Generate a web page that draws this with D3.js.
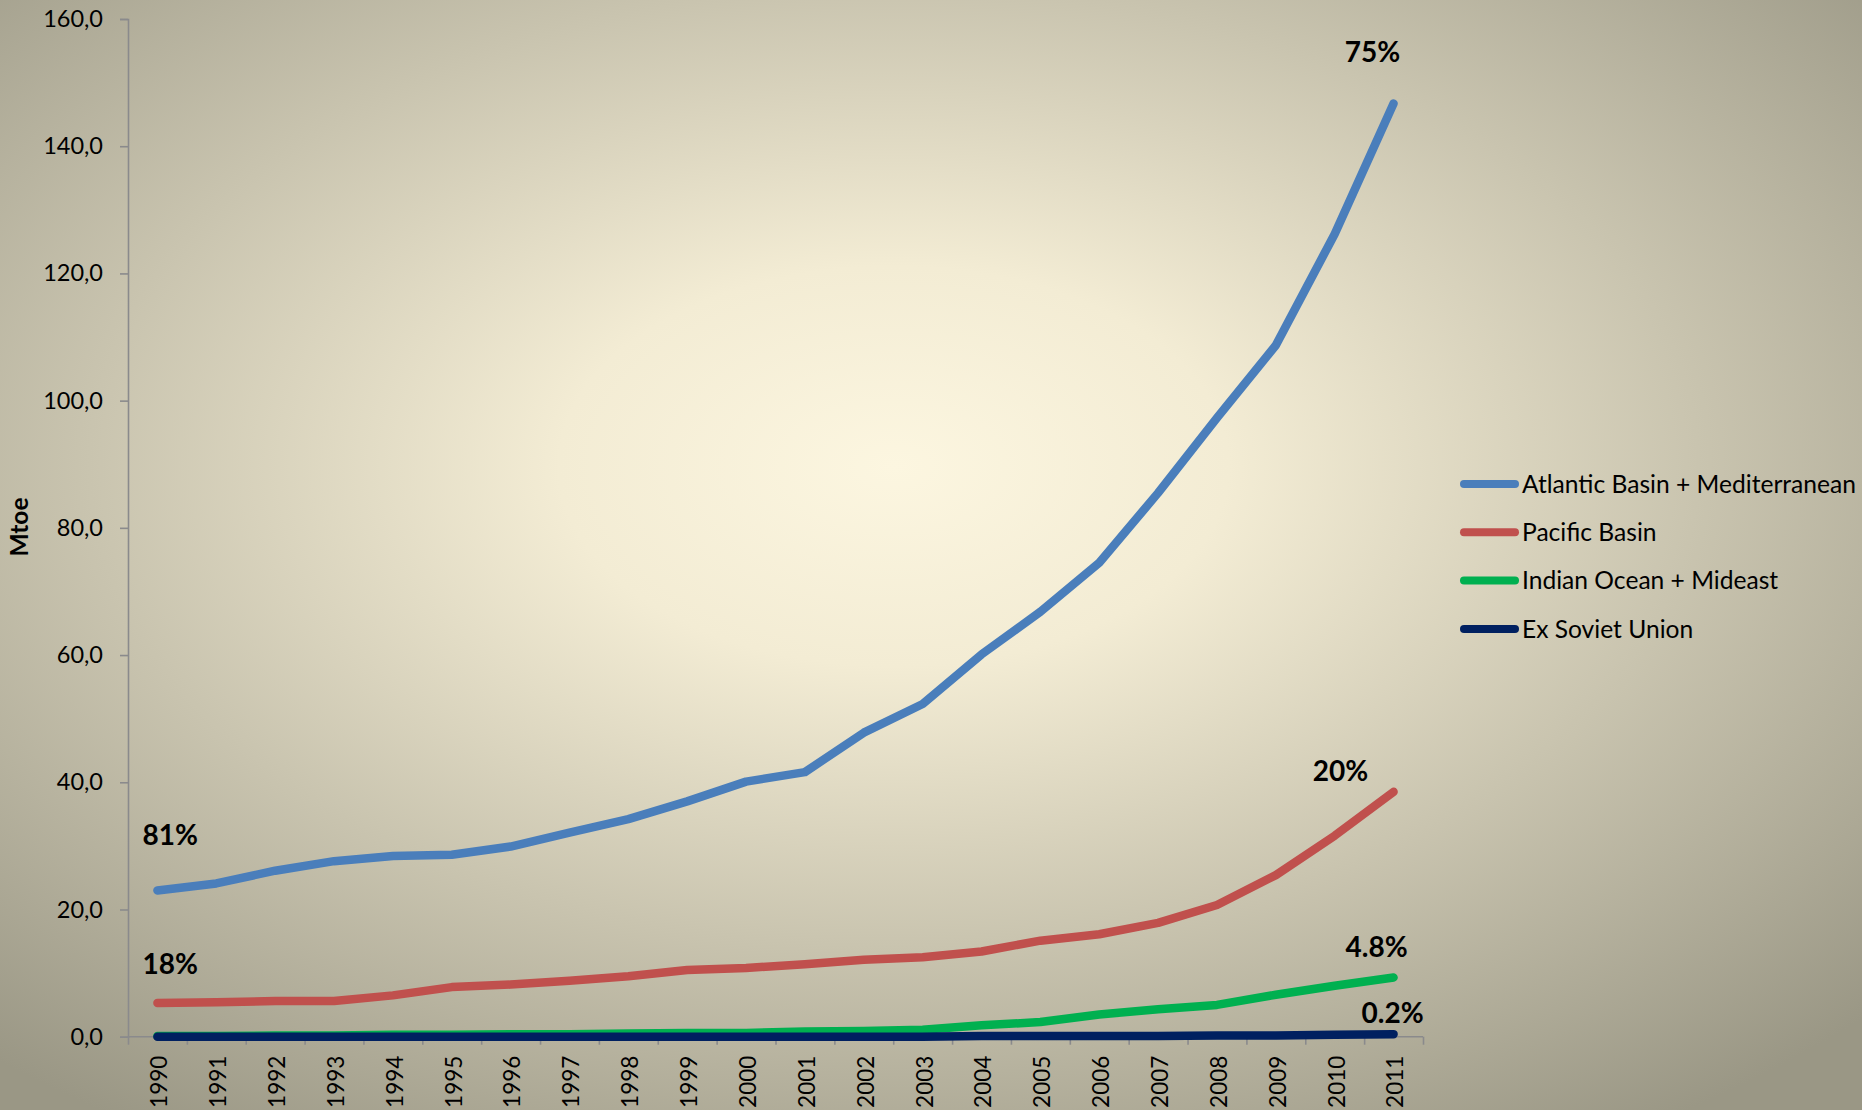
<!DOCTYPE html>
<html>
<head>
<meta charset="utf-8">
<script src="https://cdn.jsdelivr.net/npm/d3@7"></script>
<style>
  html, body { margin: 0; padding: 0; background: #a9a694; }
  svg { display: block; }
  text { font-family: Lato, "Open Sans", sans-serif; fill: #000; }
</style>
</head>
<body>
<svg id="chart" width="1862" height="1110"></svg>
<script>
const years = ["1990","1991","1992","1993","1994","1995","1996","1997","1998","1999","2000",
               "2001","2002","2003","2004","2005","2006","2007","2008","2009","2010","2011"];
const atlantic = [23.0, 24.1, 26.1, 27.6, 28.4, 28.6, 29.9, 32.1, 34.2, 37.0, 40.1,
                  41.6, 47.8, 52.3, 60.1, 66.8, 74.5, 85.5, 97.3, 108.7, 126.2, 146.7];
const pacific = [5.3, 5.4, 5.6, 5.6, 6.5, 7.8, 8.2, 8.8, 9.5, 10.5, 10.8,
                 11.4, 12.1, 12.5, 13.4, 15.1, 16.1, 17.9, 20.7, 25.4, 31.6, 38.5];
const indian = [0.1, 0.1, 0.2, 0.2, 0.3, 0.3, 0.4, 0.4, 0.5, 0.6, 0.6,
                0.8, 0.9, 1.1, 1.8, 2.3, 3.5, 4.3, 5.0, 6.6, 8.0, 9.3];
const exSoviet = [0.0, 0.0, 0.0, 0.0, 0.0, 0.0, 0.0, 0.0, 0.0, 0.0, 0.0,
                  0.0, 0.0, 0.0, 0.1, 0.1, 0.1, 0.1, 0.2, 0.2, 0.3, 0.4];
const seriesNames = ["Atlantic Basin + Mediterranean", "Pacific Basin", "Indian Ocean + Mideast", "Ex Soviet Union"];
const seriesColors = ["#4a7ebb", "#c0504d", "#00b050", "#002060"];
const yTicks = [0, 20, 40, 60, 80, 100, 120, 140, 160];
const startShares = ["81%", "18%"];
const endShares = ["75%", "20%", "4.8%", "0.2%"];
const yTitle = "Mtoe";

const seriesValues = [atlantic, pacific, indian, exSoviet];

const svg = d3.select("#chart");
const W = 1862, H = 1110;

// background gradient
const defs = svg.append("defs");
const grad = defs.append("radialGradient")
  .attr("id", "bg").attr("cx", 0.48).attr("cy", 0.42).attr("r", 0.72)
  .attr("fx", 0.48).attr("fy", 0.42);
[[0, "#fcf6e0"], [0.25, "#f3ecd4"], [0.6, "#c9c4af"], [1, "#9a9785"]].forEach(s =>
  grad.append("stop").attr("offset", s[0]).attr("stop-color", s[1]));
svg.append("rect").attr("width", W).attr("height", H).attr("fill", "url(#bg)");

const plotLeft = 128, plotRight = 1423, plotTop = 19, plotBottom = 1036.7;

const x = d3.scaleBand().domain(years).range([plotLeft, plotRight]).paddingInner(0).paddingOuter(0);
const xc = d => x(d) + x.bandwidth() / 2;
const xTickScale = d3.scaleLinear().domain([0, years.length]).range([plotLeft, plotRight]);
const y = d3.scaleLinear().domain([0, 160]).range([plotBottom, plotTop]);

const axisColor = "#8a8a8c";

// Y axis
const yAxis = svg.append("g").attr("transform", `translate(${plotLeft},0)`)
  .call(d3.axisLeft(y).tickValues(yTicks).tickSize(8).tickPadding(17)
    .tickFormat(v => d3.format(".1f")(v).replace(".", ",")));
yAxis.select(".domain").attr("stroke", axisColor).attr("stroke-width", 1.6);
yAxis.selectAll(".tick line").attr("stroke", axisColor).attr("stroke-width", 1.6);
yAxis.selectAll(".tick text").style("font-size", "23.5px").style("font-family", "Lato, sans-serif").attr("fill", "#000");

// X axis ticks at category boundaries
const xAxisTicks = svg.append("g").attr("transform", `translate(0,${plotBottom})`)
  .call(d3.axisBottom(xTickScale).tickValues(d3.range(years.length + 1)).tickSize(8).tickFormat(""));
xAxisTicks.select(".domain").attr("stroke", axisColor).attr("stroke-width", 1.6)
  .attr("d", `M${plotLeft},0H${plotRight}`);
xAxisTicks.selectAll(".tick line").attr("stroke", axisColor).attr("stroke-width", 1.6);

// X labels
const xAxisLabels = svg.append("g").attr("transform", `translate(0,${plotBottom})`)
  .call(d3.axisBottom(x).tickSize(0).tickPadding(0));
xAxisLabels.select(".domain").remove();
xAxisLabels.selectAll(".tick text")
  .attr("transform", "translate(2,19) rotate(-90)")
  .attr("text-anchor", "end")
  .attr("x", 0).attr("y", 0).attr("dy", "0.35em")
  .style("font-size", "22.5px").style("font-family", "Lato, sans-serif").attr("fill", "#000");

// Y title
svg.append("text")
  .attr("transform", `translate(28,527) rotate(-90)`)
  .attr("text-anchor", "middle")
  .style("font-size", "24.5px").style("font-weight", "bold")
  .text(yTitle);

// Lines
const line = d3.line().x((d, i) => xc(years[i])).y(d => y(d));
seriesValues.forEach((vals, k) => {
  svg.append("path").datum(vals)
    .attr("d", line)
    .attr("fill", "none")
    .attr("stroke", seriesColors[k])
    .attr("stroke-width", 8.5)
    .attr("stroke-linecap", "round")
    .attr("stroke-linejoin", "round");
});

// Share annotations
const annoFont = { size: "28px", weight: "bold" };
const first = years[0], last = years[years.length - 1];
const startAnno = [
  { t: startShares[0], x: xc(first) - 15, y: y(atlantic[0]) - 45, anchor: "start" },
  { t: startShares[1], x: xc(first) - 15, y: y(pacific[0]) - 29, anchor: "start" }
];
const endAnno = [
  { t: endShares[0], x: xc(last) - 21, y: y(atlantic[21]) - 41.6, anchor: "middle" },
  { t: endShares[1], x: xc(last) - 53, y: y(pacific[21]) - 11, anchor: "middle" },
  { t: endShares[2], x: xc(last) - 17, y: y(indian[21]) - 21, anchor: "middle" },
  { t: endShares[3], x: xc(last) - 1, y: y(exSoviet[21]) - 11, anchor: "middle" }
];
startAnno.concat(endAnno).forEach(a => {
  svg.append("text").attr("x", a.x).attr("y", a.y)
    .attr("text-anchor", a.anchor)
    .style("font-size", annoFont.size).style("font-weight", annoFont.weight)
    .text(a.t);
});

// Legend
const legend = svg.append("g").attr("transform", "translate(1464,484)");
seriesNames.forEach((name, k) => {
  const g = legend.append("g").attr("transform", `translate(0,${k * 48.3})`);
  g.append("line").attr("x1", 0).attr("x2", 51).attr("y1", 0).attr("y2", 0)
    .attr("stroke", seriesColors[k]).attr("stroke-width", 8).attr("stroke-linecap", "round");
  g.append("text").attr("x", 58).attr("y", 0).attr("dy", "0.35em")
    .style("font-size", "24.6px").text(name);
});
</script>
</body>
</html>
